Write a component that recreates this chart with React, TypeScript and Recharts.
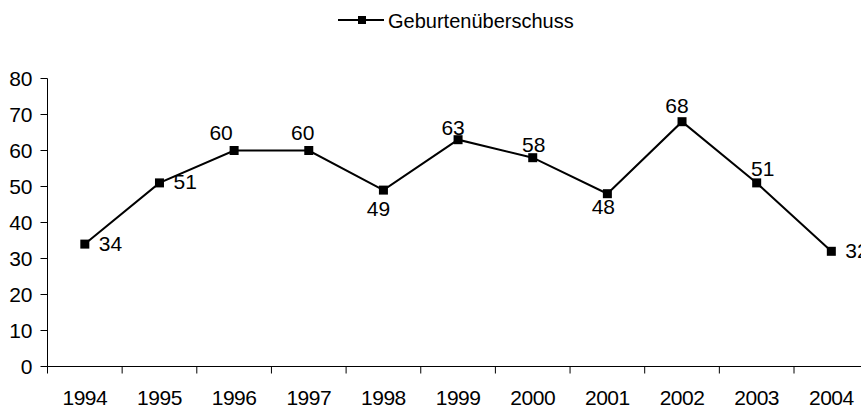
import React from "react";
import { LineChart, Line, XAxis, YAxis, LabelList } from "recharts";

// ─── Data ─────────────────────────────────────────────────────────────────────

const years = ["1994", "1995", "1996", "1997", "1998", "1999", "2000", "2001", "2002", "2003", "2004"];
const values = [34, 51, 60, 60, 49, 63, 58, 48, 68, 51, 32];
const yTicks = [0, 10, 20, 30, 40, 50, 60, 70, 80];
const seriesName = "Geburtenüberschuss";

const data = years.map((year, i) => ({ year, value: values[i] }));

// ─── Layout ───────────────────────────────────────────────────────────────────

const FONT = '"Liberation Sans", Arial, sans-serif';
const CHART_W = 880;
const CHART_H = 407;
const AXIS_W = 47.5;
const BAND = 74.65;
const PLOT_W = BAND * years.length;
const TOP = 78.5;
const X_AXIS_H = 30;
const BOTTOM = 10.5;
const PLOT_BOTTOM = CHART_H - BOTTOM - X_AXIS_H;

// where each value label sits relative to its point (Excel placed them by hand)
const labelPlace: { anchor: "start" | "middle"; dx: number; dy: number }[] = [
  { anchor: "start", dx: 14, dy: 6.4 },
  { anchor: "start", dx: 14, dy: 6.2 },
  { anchor: "middle", dx: -13, dy: -10.5 },
  { anchor: "middle", dx: -6, dy: -10.5 },
  { anchor: "middle", dx: -5, dy: 26 },
  { anchor: "middle", dx: -5, dy: -5 },
  { anchor: "middle", dx: 1, dy: -5.6 },
  { anchor: "middle", dx: -4, dy: 19.8 },
  { anchor: "middle", dx: -5, dy: -8.5 },
  { anchor: "middle", dx: 6, dy: -7.4 },
  { anchor: "start", dx: 14, dy: 6.2 },
];

// ─── Pieces ───────────────────────────────────────────────────────────────────

function YearTick(props: any) {
  const { x, payload, index } = props;
  const left = x - BAND / 2;
  return (
    <g>
      <line x1={left} x2={left} y1={PLOT_BOTTOM} y2={PLOT_BOTTOM + 7} stroke="#000" />
      {index === years.length - 1 && (
        <line x1={x + BAND / 2} x2={x + BAND / 2} y1={PLOT_BOTTOM} y2={PLOT_BOTTOM + 7} stroke="#000" />
      )}
      <text
        x={x}
        y={PLOT_BOTTOM + 38}
        textAnchor="middle"
        fontSize={21}
        letterSpacing={-0.5}
        fontFamily={FONT}
        fill="#000"
      >
        {payload.value}
      </text>
    </g>
  );
}

function SquareDot(props: any) {
  const { cx, cy } = props;
  if (cx == null || cy == null) return null;
  return <rect x={cx - 4.5} y={cy - 4.5} width={9} height={9} fill="#000" />;
}

function ValueLabel(props: any) {
  const { x, y, value, index } = props;
  const p = labelPlace[index] ?? { anchor: "middle", dx: 0, dy: -8 };
  return (
    <text x={x + p.dx} y={y + p.dy} textAnchor={p.anchor} fontSize={21} fontFamily={FONT} fill="#000">
      {value}
    </text>
  );
}

// ─── Component ────────────────────────────────────────────────────────────────

export default function App() {
  return (
    <div style={{ position: "absolute", left: 0, top: 0, width: 861, height: 407, overflow: "hidden", background: "#fff" }}>
      {/* legend */}
      <svg width={861} height={40} style={{ position: "absolute", left: 0, top: 0 }}>
        <line x1={338} x2={384} y1={20} y2={20} stroke="#000" strokeWidth={2} />
        <rect x={358} y={16} width={8} height={8} fill="#000" />
        <text x={388} y={27.7} fontSize={20} fontFamily={FONT} fill="#000">
          {seriesName}
        </text>
      </svg>

      <LineChart
        width={CHART_W}
        height={CHART_H}
        data={data}
        margin={{ top: TOP, right: CHART_W - AXIS_W - PLOT_W, bottom: BOTTOM, left: 0 }}
      >
        <XAxis
          dataKey="year"
          height={X_AXIS_H}
          padding={{ left: BAND / 2, right: BAND / 2 }}
          axisLine={{ stroke: "#000" }}
          tickLine={false}
          tick={<YearTick />}
          interval={0}
        />
        <YAxis
          width={AXIS_W}
          domain={[0, 80]}
          ticks={yTicks}
          interval={0}
          axisLine={{ stroke: "#000" }}
          tickLine={{ stroke: "#000" }}
          tickSize={7}
          tickMargin={8}
          tick={{ fill: "#000", fontSize: 21, fontFamily: FONT }}
        />
        <Line
          dataKey="value"
          name={seriesName}
          stroke="#000"
          strokeWidth={2}
          dot={<SquareDot />}
          activeDot={false}
          isAnimationActive={false}
        >
          <LabelList dataKey="value" content={<ValueLabel />} />
        </Line>
      </LineChart>
    </div>
  );
}
